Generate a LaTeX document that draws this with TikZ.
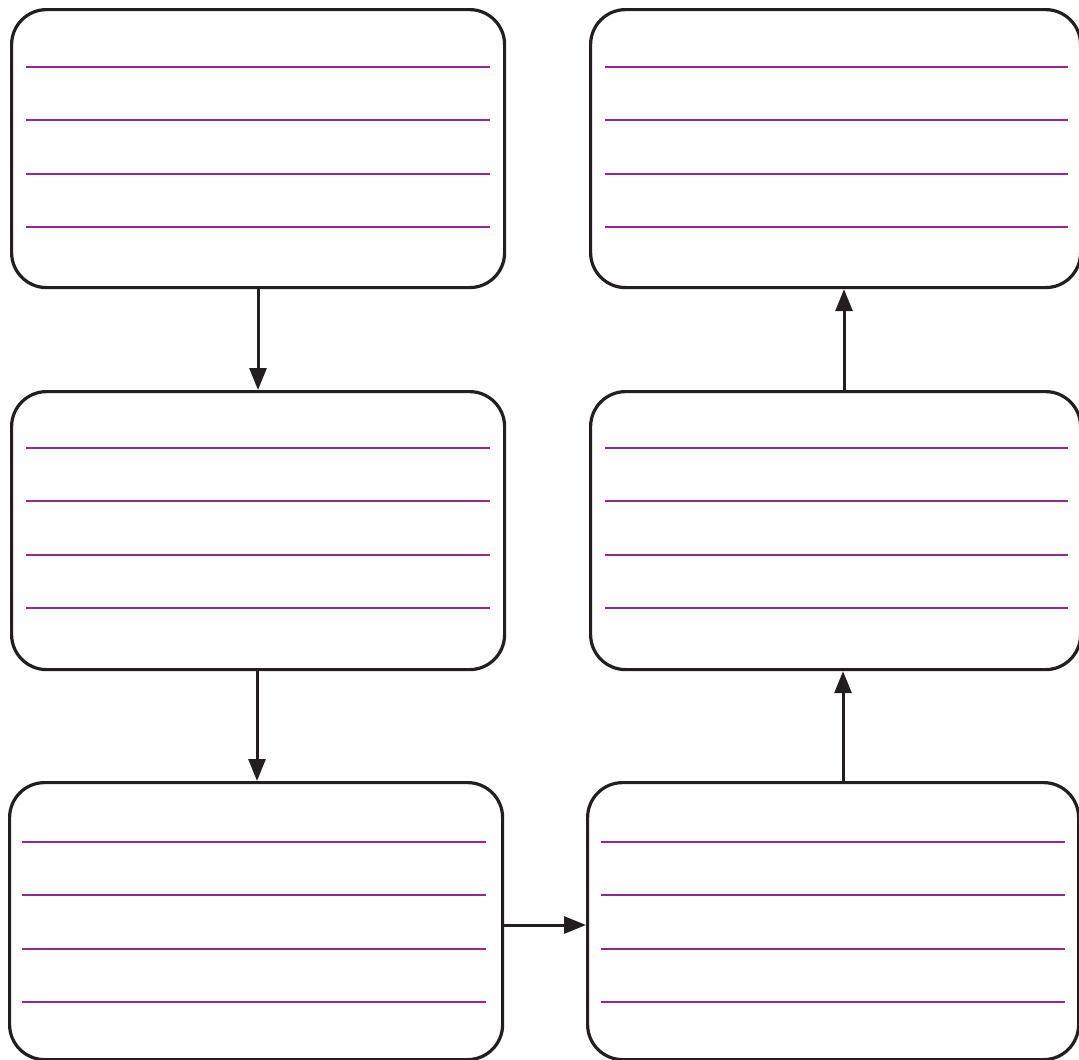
\documentclass[tikz,border=0pt]{standalone}
\usetikzlibrary{arrows.meta}
\definecolor{boxline}{HTML}{231F20}
\definecolor{rule}{HTML}{93278F}
\tikzset{
  card/.style={draw=boxline, line width=3.2pt, rounded corners=35pt, fill=white},
  ruleline/.style={draw=rule, line width=1.6pt},
  flow/.style={draw=boxline, line width=3pt, -{Triangle[length=22pt,width=17pt]}}
}
\begin{document}
\begin{tikzpicture}[x=1pt,y=-1pt]
\useasboundingbox (0,0) rectangle (1079,1060);
% boxes: name, left, top, right, bottom, line-left, line-right, first rule offset
\foreach \n/\l/\t/\r/\b/\a/\z/\o in {tl/10/8/503/286/26/490/59, tr/589/8/1079/286/605/1068/59, ml/10/390/503/668/26/490/58, mr/589/390/1079/668/605/1068/58, bl/8/781/501/1058/22/486/61, br/586/781/1077/1058/601/1065/61}{
  \node[card, minimum width={(\r-\l)*1pt}, minimum height={(\b-\t)*1pt}, inner sep=0pt, anchor=north west] (\n) at (\l,\t) {};
  \foreach \k in {0,53,107,160}{
    \draw[ruleline] (\a,\t+\o+\k) -- (\z,\t+\o+\k);
  }
}
\draw[flow] (tl.south -| 258,0) -- (ml.north -| 258,0);
\draw[flow] (ml.south -| 257,0) -- (bl.north -| 257,0);
\draw[flow] (bl.east |- 0,925) -- (br.west |- 0,925);
\draw[flow] (br.north -| 843,0) -- (mr.south -| 843,0);
\draw[flow] (mr.north -| 844,0) -- (tr.south -| 844,0);
\end{tikzpicture}
\end{document}
